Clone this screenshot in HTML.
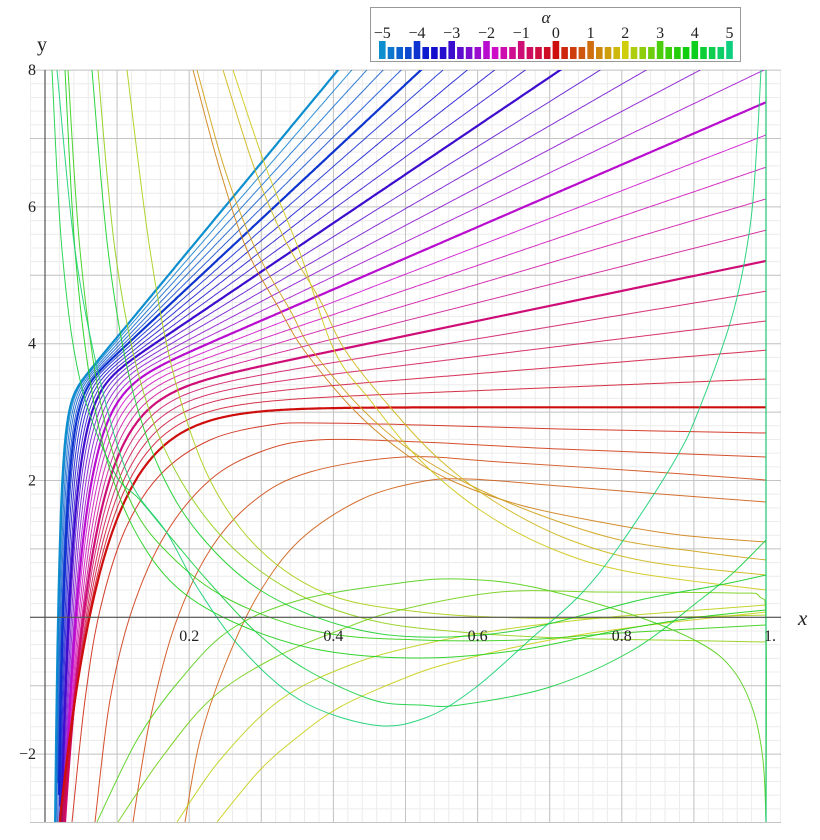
<!DOCTYPE html>
<html><head><meta charset="utf-8">
<style>
html,body{margin:0;padding:0;background:#fff;}
svg{display:block;}
text{font-family:"Liberation Serif",serif;fill:#222;}
</style></head>
<body>
<svg id="s" width="820" height="840" xmlns="http://www.w3.org/2000/svg">
<defs><clipPath id="cp"><rect x="30" y="70" width="737" height="752"/></clipPath></defs>
<g id="grid"></g>
<g id="curves" clip-path="url(#cp)"></g>
<g id="axes"></g>
<g id="leg"></g>
</svg>
<script>
var NS="http://www.w3.org/2000/svg";
function el(p,t,a,txt){var e=document.createElementNS(NS,t);for(var k in a)e.setAttribute(k,a[k]);if(txt!=null)e.textContent=txt;p.appendChild(e);return e;}
var X0=45,SX=721,Y0=617.3,SY=68.4;
function px(x){return X0+SX*x;} function py(y){return Y0-SY*y;}
var g=document.getElementById('grid');
for(var i=-1;i<=51;i++){var x=px(i*0.02);if(x<30||x>781)continue;el(g,'line',{x1:x,y1:70,x2:x,y2:822,stroke:'#ececec','stroke-width':1});}
for(var j=-15;j<=40;j++){var y=py(j*0.2);if(y<70||y>822)continue;el(g,'line',{x1:30,y1:y,x2:781,y2:y,stroke:'#ececec','stroke-width':1});}
for(var i=0;i<=10;i++){var x=px(i*0.1);el(g,'line',{x1:x,y1:70,x2:x,y2:822,stroke:'#c4c4c4','stroke-width':1});}
for(var j=-3;j<=8;j++){var y=py(j);el(g,'line',{x1:30,y1:y,x2:781,y2:y,stroke:'#c4c4c4','stroke-width':1});}
var a=document.getElementById('axes');
el(a,'line',{x1:30,y1:Y0,x2:781,y2:Y0,stroke:'#555','stroke-width':1.2});
el(a,'line',{x1:X0,y1:70,x2:X0,y2:822,stroke:'#555','stroke-width':1.2});
[['0.2',0.2],['0.4',0.4],['0.6',0.6],['0.8',0.8],['1.',1]].forEach(function(t){el(a,'text',{x:px(t[1])+(t[0]=='1.'?4:0),y:641,'font-size':16,'text-anchor':'middle'},t[0]);});
[['8',8],['6',6],['4',4],['2',2],['\u22122',-2]].forEach(function(t){el(a,'text',{x:36,y:py(t[1])+5,'font-size':16,'text-anchor':'end'},t[0]);});
el(a,'text',{x:37,y:51,'font-size':20},'y');
el(a,'text',{x:798,y:625,'font-size':21,'font-style':'italic'},'x');
var HT=[[-5,200],[-4,228],[-3,255],[-2,293],[-1,327],[0,360],[1,390],[2,420],[3,460],[4,485],[5,515]];
function hue(al){for(var i=0;i<HT.length-1;i++){if(al<=HT[i+1][0]){var t=(al-HT[i][0])/(HT[i+1][0]-HT[i][0]);return HT[i][1]+t*(HT[i+1][1]-HT[i][1]);}}return 515;}
function col(al){var h=hue(al)%360;return 'hsl('+h.toFixed(0)+',88%,43%)';}
var c=document.getElementById('curves');
for(var k=-25;k<=0;k++){
  var al=k*0.2, aa=Math.abs(al);
  var m=2.1*aa+0.09*al*al, cc=3.07+0.05*al, b=16.5*Math.exp(-0.46*al), A=8.5*Math.exp(-0.39*al);
  var d='';var started=false;
  for(var n=0;n<=600;n++){var x=0.004+n*(0.996/600);var y=cc+m*x-A*Math.exp(-b*x);
    if(y<-3.3){started=false;continue;} if(y>8.3)y=8.3;
    d+=(started?'L':'M')+px(x).toFixed(1)+' '+py(y).toFixed(1);started=true;}
  var thick=(k%5==0);
  el(c,'path',{d:d,fill:'none',stroke:col(al),'stroke-width':thick?2.2:1,'stroke-opacity':thick?1:0.85});
}
function cr(p){var d='M'+p[0][0]+' '+p[0][1];for(var i=0;i<p.length-1;i++){var p0=p[i-1]||p[i],p1=p[i],p2=p[i+1],p3=p[i+2]||p2;
 d+='C'+(p1[0]+(p2[0]-p0[0])/6).toFixed(1)+' '+(p1[1]+(p2[1]-p0[1])/6).toFixed(1)+' '+(p2[0]-(p3[0]-p1[0])/6).toFixed(1)+' '+(p2[1]-(p3[1]-p1[1])/6).toFixed(1)+' '+p2[0]+' '+p2[1];}return d;}
var H=[
[6,[[72,822],[85,700],[100,610],[125,530],[160,475],[210,440],[270,425],[317,423],[420,425],[560,429],[766,433]]],
[12,[[95,822],[110,700],[132,610],[165,535],[210,480],[260,452],[317,440],[420,442],[560,449],[766,457]]],
[18,[[133,822],[150,720],[175,625],[210,550],[255,500],[310,472],[404,457],[500,462],[640,471],[766,480]]],
[24,[[185,822],[200,740],[225,665],[258,595],[300,540],[360,500],[420,482],[469,479],[560,486],[660,494],[766,502]]],
[35,[[193,70],[220,170],[247,250],[280,310],[304,350],[351,407],[400,450],[450,480],[520,505],[600,522],[680,535],[766,542]]],
[45,[[197,70],[225,170],[256,250],[290,310],[312,350],[360,407],[410,450],[470,485],[540,515],[620,540],[700,552],[766,560]]],
[52,[[223,70],[255,170],[285,240],[320,300],[345,350],[390,407],[440,460],[500,505],[570,540],[650,562],[766,575]]],
[58,[[233,70],[265,165],[299,250],[334,350],[370,400],[420,460],[480,510],[550,548],[630,572],[766,590]]],
[62,[[217,822],[260,770],[300,735],[340,707],[400,680],[450,663],[550,640],[650,625],[766,612]]],
[66,[[177,822],[220,760],[280,700],[350,665],[420,645],[500,630],[600,618],[700,610],[766,605]]],
[72,[[127,70],[150,250],[175,380],[210,480],[260,550],[330,595],[420,612],[520,618],[620,618],[766,615]]],
[80,[[98,70],[115,250],[140,380],[175,470],[225,540],[290,590],[370,620],[460,632],[560,638],[660,640],[766,642]]],
[90,[[118,822],[160,760],[210,700],[270,660],[340,630],[400,610],[500,592],[600,592],[733,593],[760,597],[766,627],[766,822]]],
[100,[[97,822],[137,740],[180,680],[230,630],[300,600],[400,583],[460,579],[533,587],[633,615],[700,643],[733,670],[753,710],[763,760],[766,822]]],
[110,[[68,70],[80,250],[100,400],[130,500],[170,555],[230,600],[320,632],[420,640],[520,640],[620,633],[766,625]]],
[118,[[65,70],[75,250],[90,380],[110,470],[140,540],[180,590],[240,625],[320,650],[420,658],[520,650],[620,630],[700,617],[766,610]]],
[126,[[92,70],[108,250],[130,380],[160,470],[200,535],[260,590],[340,625],[420,637],[520,630],[640,600],[720,585],[766,575]]],
[134,[[52,70],[62,250],[80,380],[113,470],[140,500],[173,540],[207,580],[257,633],[307,670],[373,700],[420,705],[460,705],[550,687],[633,650],[700,600],[733,573],[766,540]]],
[150,[[57,70],[75,250],[100,380],[130,480],[167,533],[197,587],[240,647],[300,700],[373,725],[425,718],[475,688],[533,637],[580,595],[620,545],[675,460],[700,407],[733,313],[750,227],[757,143],[761,70]]]
];
H.forEach(function(h){el(c,'path',{d:cr(h[1]),fill:'none',stroke:'hsl('+h[0]+',80%,45%)','stroke-width':1,'stroke-opacity':0.9});});
el(c,'line',{x1:766,y1:70,x2:766,y2:822,stroke:'hsl(150,75%,45%)','stroke-width':1.2});
var L=document.getElementById('leg');
el(L,'rect',{x:370.5,y:7.5,width:370,height:54,fill:'#fff',stroke:'#999','stroke-width':1});
el(L,'text',{x:546,y:23,'font-size':17,'font-style':'italic','text-anchor':'middle'},'\u03b1');
for(var i=0;i<=40;i++){var al=-5+i*0.25;var x=379+i*8.68;var tall=(i%4==0);
 el(L,'rect',{x:x.toFixed(1),y:tall?41:47,width:6.6,height:tall?18:12,fill:col(al)});
 if(tall){var v=al;el(L,'text',{x:(x+3.3).toFixed(1),y:38,'font-size':16,'text-anchor':'middle'},(v<0?'\u2212':'')+Math.abs(v));}}
</script>
</body></html>
